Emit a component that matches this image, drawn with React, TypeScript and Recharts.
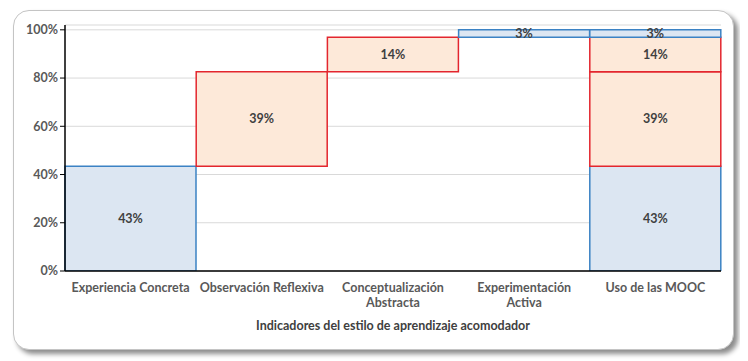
import React from "react";
import { BarChart, Bar, XAxis, YAxis, CartesianGrid, LabelList } from "recharts";

const categories = [
  "Experiencia Concreta",
  "Observación Reflexiva",
  "Conceptualización Abstracta",
  "Experimentación Activa",
  "Uso de las MOOC",
];
const tickLines = [
  ["Experiencia Concreta"],
  ["Observación Reflexiva"],
  ["Conceptualización", "Abstracta"],
  ["Experimentación", "Activa"],
  ["Uso de las MOOC"],
];
const baseValues = [0, 0.434, 0.826, 0.969, 0];
const concreta = [0.434, null, null, null, 0.434];
const reflexiva = [null, 0.392, null, null, 0.392];
const abstracta = [null, null, 0.143, null, 0.143];
const activa = [null, null, null, 0.031, 0.031];
const yTicks = [0, 0.2, 0.4, 0.6, 0.8, 1];
const xTitle = "Indicadores del estilo de aprendizaje acomodador";

const data = categories.map((c, i) => ({
  name: c,
  idx: i,
  base: baseValues[i],
  concreta: concreta[i],
  reflexiva: reflexiva[i],
  abstracta: abstracta[i],
  activa: activa[i],
}));

const FONT = "Lato, 'Open Sans', sans-serif";
const BLUE_FILL = "#DCE6F2";
const BLUE_STROKE = "#3B82C4";
const RED_FILL = "#FDE9D9";
const RED_STROKE = "#E3262E";

const fmt = (v: any) => (v ? `${Math.round(v * 100)}%` : "");

const XTick = (props: any) => {
  const { x, y, payload } = props;
  const lines = tickLines[payload.index] || [payload.value];
  return (
    <text x={x} y={y + 13} textAnchor="middle" fill="#595959" fontSize={12.5} fontWeight={700} fontFamily={FONT}>
      {lines.map((l: string, i: number) => (
        <tspan key={i} x={x} dy={i === 0 ? 0 : 15}>
          {l}
        </tspan>
      ))}
    </text>
  );
};

const labelStyle = { fill: "#404040", fontSize: 12.5, fontWeight: 700, fontFamily: FONT };

export default function App() {
  return (
    <div style={{ position: "relative", width: 740, height: 353, fontFamily: FONT }}>
      <div
        style={{
          position: "absolute",
          left: 5,
          top: 2,
          width: 719,
          height: 338,
          borderRadius: 16,
          border: "1px solid #c4c4c4",
          boxShadow: "4px 4px 5px #8c8c8c",
          background: "#fff",
        }}
      />
      <div style={{ position: "absolute", left: 0, top: 0 }}>
        <BarChart
          width={740}
          height={353}
          data={data}
          barCategoryGap={0}
          barGap={0}
          margin={{ top: 17, right: 27, bottom: 30, left: 17 }}
        >
          <CartesianGrid horizontal vertical={false} stroke="#d9d9d9" />
          <XAxis
            dataKey="name"
            interval={0}
            axisLine={{ stroke: "#000", strokeWidth: 1.5 }}
            tickLine={false}
            tick={<XTick />}
            height={60}
          />
          <XAxis
            xAxisId="top"
            dataKey="name"
            orientation="top"
            height={0}
            tick={false}
            tickLine={false}
            axisLine={{ stroke: "#000", strokeWidth: 1.5 }}
          />
          <YAxis
            domain={[0, 1.02]}
            ticks={yTicks}
            allowDataOverflow
            width={40}
            tickFormatter={(v: number) => `${Math.round(v * 100)}%`}
            tick={{ fill: "#595959", fontSize: 12.5, fontWeight: 700, fontFamily: FONT }}
            axisLine={{ stroke: "#000", strokeWidth: 1.5 }}
            tickLine={{ stroke: "#000" }}
            tickSize={5}
          />
          <YAxis
            yAxisId="right"
            orientation="right"
            width={0}
            tick={false}
            tickLine={false}
            axisLine={{ stroke: "#000", strokeWidth: 1.5 }}
          />
          <Bar dataKey="base" stackId="s" fill="transparent" isAnimationActive={false} />
          <Bar dataKey="concreta" stackId="s" fill={BLUE_FILL} stroke={BLUE_STROKE} strokeWidth={1.5} isAnimationActive={false}>
            <LabelList dataKey="concreta" position="center" formatter={fmt} style={labelStyle} />
          </Bar>
          <Bar dataKey="reflexiva" stackId="s" fill={RED_FILL} stroke={RED_STROKE} strokeWidth={1.5} isAnimationActive={false}>
            <LabelList dataKey="reflexiva" position="center" formatter={fmt} style={labelStyle} />
          </Bar>
          <Bar dataKey="abstracta" stackId="s" fill={RED_FILL} stroke={RED_STROKE} strokeWidth={1.5} isAnimationActive={false}>
            <LabelList dataKey="abstracta" position="center" formatter={fmt} style={labelStyle} />
          </Bar>
          <Bar dataKey="activa" stackId="s" fill={BLUE_FILL} stroke={BLUE_STROKE} strokeWidth={1.5} isAnimationActive={false}>
            <LabelList dataKey="activa" position="center" formatter={fmt} style={labelStyle} />
          </Bar>
        </BarChart>
      </div>
      <div
        style={{
          position: "absolute",
          left: 0,
          width: 770,
          top: 310,
          textAlign: "center",
          color: "#404040",
          fontSize: 12.5,
          fontWeight: 700,
          fontFamily: FONT,
        }}
      >
        {xTitle}
      </div>
    </div>
  );
}
